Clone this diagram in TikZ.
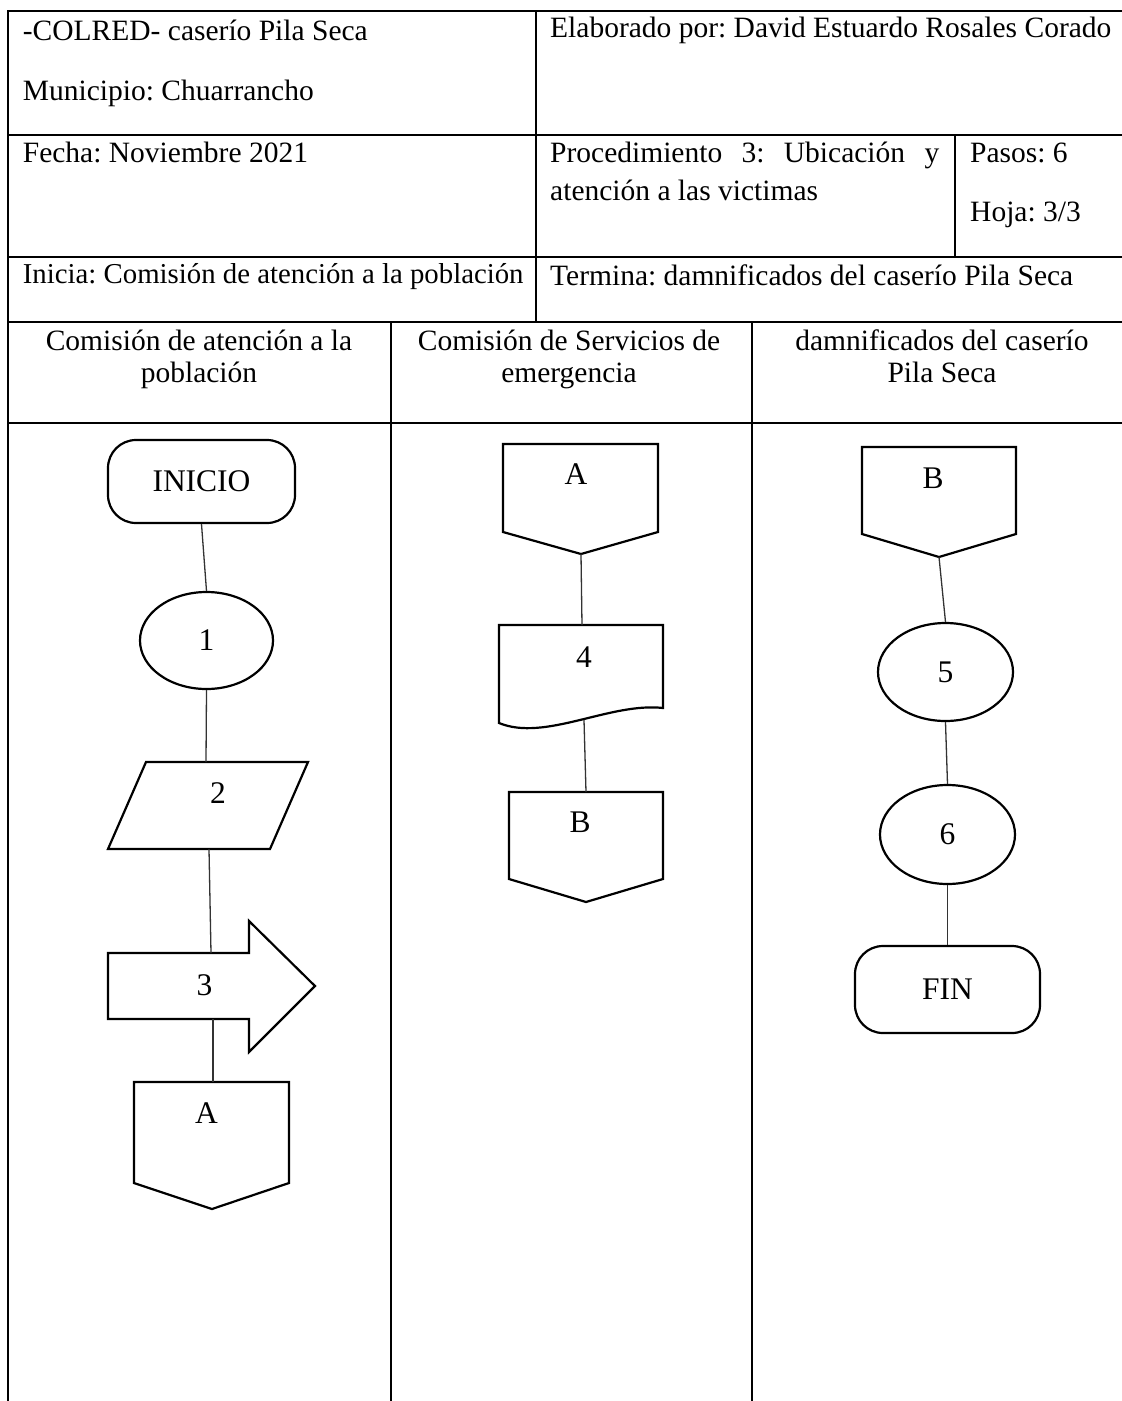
\documentclass[tikz,border=0pt]{standalone}
\usepackage{fontspec}
\setmainfont{Liberation Serif}
\usetikzlibrary{shapes.geometric}
\frenchspacing
\newcommand{\tblfnt}{\fontsize{29.5}{32}\selectfont}
\newcommand{\tblfntsm}{\fontsize{28.8}{32}\selectfont}
\newcommand{\shpfnt}{\fontsize{31.5}{34}\selectfont}
\begin{document}
\begin{tikzpicture}[x=1pt,y=-1pt,
  tbl/.style={line width=2pt},
  shp/.style={draw, line width=2.2pt, fill=white, line join=miter},
  conn/.style={line width=1.3pt, black!80},
  term/.style={shp, rectangle, rounded corners=28pt, inner sep=0pt, font=\shpfnt},
  ell/.style={shp, ellipse, inner sep=0pt, font=\shpfnt},
  lbl/.style={inner sep=0pt, font=\shpfnt},
  txt/.style={inner sep=0pt, anchor=base west, font=\tblfnt},
  hdr/.style={inner sep=0pt, anchor=base, font=\tblfnt}]
\useasboundingbox (0,0) rectangle (1122,1401);
\clip (0,0) rectangle (1122,1401);
% table
\draw[tbl] (8,11) rectangle (1132,1430);
\draw[tbl] (8,135) -- (1132,135);
\draw[tbl] (8,257) -- (1132,257);
\draw[tbl] (8,322) -- (1132,322);
\draw[tbl] (8,423) -- (1132,423);
\draw[tbl] (536,11) -- (536,322);
\draw[tbl] (955,135) -- (955,257);
\draw[tbl] (391,322) -- (391,1430);
\draw[tbl] (752,322) -- (752,1430);
% header texts
\node[txt] (colred) at (22.7,40) {-COLRED- caserío Pila Seca};
\node[txt] (muni) at (22.7,100) {Municipio: Chuarrancho};
\node[txt] (fecha) at (22.7,162) {Fecha: Noviembre 2021};
\node[txt, font=\tblfntsm] (inicia) at (22.7,283) {Inicia: Comisión de atención a la población};
\node[txt] (elab) at (550,37) {Elaborado por: David Estuardo Rosales Corado};
\node[txt] (proc1) at (550,162) {\makebox[389pt][s]{Procedimiento 3: Ubicación y}};
\node[txt] (proc2) at (550,200) {atención a las victimas};
\node[txt] (pasos) at (970,162) {Pasos: 6};
\node[txt] (hoja) at (970,221) {Hoja: 3/3};
\node[txt] (termina) at (550,285) {Termina: damnificados del caserío Pila Seca};
\node[hdr] (h1a) at (199,350) {Comisión de atención a la};
\node[hdr] (h1b) at (199,382) {población};
\node[hdr] (h2a) at (569,350) {Comisión de Servicios de};
\node[hdr] (h2b) at (569,382) {emergencia};
\node[hdr] (h3a) at (942,350) {damnificados del caserío};
\node[hdr] (h3b) at (942,382) {Pila Seca};
% lane 1
\node[term, minimum width=187pt, minimum height=83pt] (inicio) at (201.5,481.5) {INICIO};
\node[ell, minimum width=133pt, minimum height=97pt] (e1) at (206.5,640.5) {1};
\draw[shp] (146,762) -- (308,762) -- (270,849) -- (108,849) -- cycle;
\node[lbl] (t2) at (218,793) {2};
\coordinate (p2t) at (206,762);
\coordinate (p2b) at (209,849);
\draw[shp] (108,953) -- (249,953) -- (249,921) -- (315,986) -- (249,1052) -- (249,1019) -- (108,1019) -- cycle;
\node[lbl] (t3) at (204.5,985) {3};
\coordinate (a3t) at (211,953);
\coordinate (a3b) at (213,1019);
\draw[shp] (134,1082) -- (289,1082) -- (289,1183) -- (212,1209) -- (134,1183) -- cycle;
\node[lbl] (tA1) at (206.5,1113) {A};
\coordinate (oA1t) at (213,1082);
\draw[conn] (inicio.south) -- (e1.north);
\draw[conn] (e1.south) -- (p2t);
\draw[conn] (p2b) -- (a3t);
\draw[conn] (a3b) -- (oA1t);
% lane 2
\draw[shp] (503,444) -- (658,444) -- (658,532) -- (581,554) -- (503,532) -- cycle;
\node[lbl] (tA2) at (576,474) {A};
\coordinate (oA2b) at (581,554);
\draw[shp] (499,625) -- (663,625) -- (663,708) .. controls (610,702) and (545,742) .. (499,723) -- cycle;
\node[lbl] (t4) at (584,657) {4};
\coordinate (d4t) at (582,625);
\coordinate (d4b) at (584,720);
\draw[shp] (509,792) -- (663,792) -- (663,879) -- (586,902) -- (509,879) -- cycle;
\node[lbl] (tB2) at (580,822) {B};
\coordinate (oB2t) at (586,792);
\draw[conn] (oA2b) -- (d4t);
\draw[conn] (d4b) -- (oB2t);
% lane 3
\draw[shp] (862,447) -- (1016,447) -- (1016,534) -- (939,557) -- (862,534) -- cycle;
\node[lbl] (tB3) at (933,478) {B};
\coordinate (oB3b) at (939,557);
\node[ell, minimum width=135pt, minimum height=98pt] (e5) at (945.5,672) {5};
\node[ell, minimum width=135pt, minimum height=99pt] (e6) at (947.5,834.5) {6};
\node[term, minimum width=185pt, minimum height=87pt] (fin) at (947.5,989.5) {FIN};
\draw[conn] (oB3b) -- (e5.north);
\draw[conn] (e5.south) -- (e6.north);
\draw[conn] (e6.south) -- (fin.north);
\end{tikzpicture}
\end{document}
